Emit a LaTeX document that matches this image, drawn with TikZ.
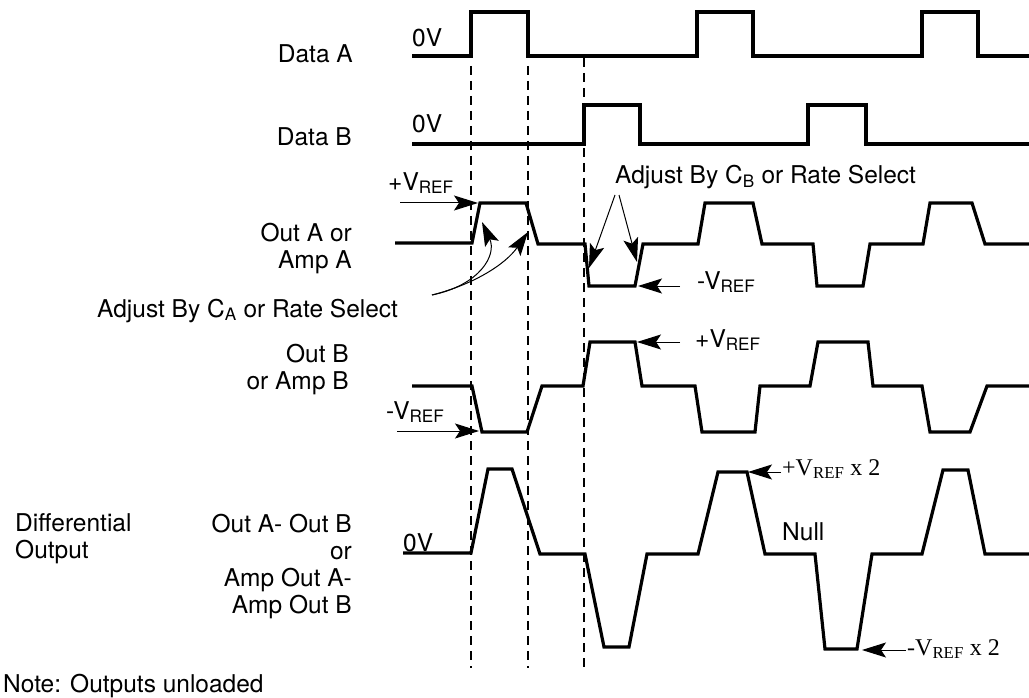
\documentclass[tikz,border=0pt]{standalone}
\usepackage{fontspec}
\setmainfont{TeX Gyre Heros}
\newfontfamily\timesfont{Liberation Serif}
\usetikzlibrary{arrows.meta}
\begin{document}
\begin{tikzpicture}[x=1pt,y=-1pt,
 wave/.style={line width=3.2pt,line join=miter},
 guide/.style={line width=1.1pt,dash pattern=on 9pt off 6pt},
 lab/.style={font=\fontsize{24.5}{27}\selectfont,inner sep=0pt},
 serif/.style={font=\timesfont\fontsize{24}{26}\selectfont,inner sep=0pt},
 ptr/.style={-{Stealth[length=24pt,width=15pt,inset=5pt]},line width=1pt}]
\useasboundingbox (0,0) rectangle (1029,698);
\node[lab,anchor=base east] (dataA) at (353,63) {Data A};
\node[lab,anchor=base west] (zeroA) at (412,47) {0V};
\node[lab,anchor=base east] (dataB) at (352,146) {Data B};
\node[lab,anchor=base west] (zeroB) at (412,133) {0V};
\node[lab,anchor=base west] (refA1) at (388,190) {+V\textsubscript{REF}};
\node[lab,align=right,anchor=base east] (outA) at (352,268) {Out A or\\Amp A};
\node[lab,anchor=base west] (adjA) at (97,317) {Adjust By C\textsubscript{A} or Rate Select};
\node[lab,anchor=base west] (adjB) at (615,184) {Adjust By C\textsubscript{B} or Rate Select};
\node[lab,anchor=base west] (refA2) at (697,289) {-V\textsubscript{REF}};
\node[lab,anchor=base west] (refB1) at (695,347) {+V\textsubscript{REF}};
\node[lab,align=right,anchor=base east] (outB) at (349,389) {Out B\\or Amp B};
\node[lab,anchor=base west] (refB2) at (386,419) {-V\textsubscript{REF}};
\node[lab,align=left,anchor=base west] (diff) at (15,558) {Differential\\Output};
\node[lab,align=right,anchor=base east] (diffAB) at (352,613) {Out A- Out B\\or\\Amp Out A-\\Amp Out B};
\node[lab,anchor=base west] (zeroD) at (403,551) {0V};
\node[serif,anchor=base west] (refD1) at (782,475) {+V\textsubscript{REF} x 2};
\node[lab,anchor=base west] (null) at (782,540) {Null};
\node[serif,anchor=base west] (refD2) at (907,655) {-V\textsubscript{REF} x 2};
\node[lab,anchor=base west] (note) at (3,692) {Note: Outputs unloaded};
\foreach \x/\t in {471/66,528/66,584/58}
  \draw[guide] (\x,\t) -- (\x,668);
\draw[wave] (412,56) -- (471,56) -- (471,12) -- (528,12) -- (528,56) -- (697,56) -- (697,12) -- (753,12)
  -- (753,56) -- (922,56) -- (922,12) -- (978,12) -- (978,56) -- (1029,56);
\draw[wave] (412,144) -- (584,144) -- (584,105) -- (640,105) -- (640,144) -- (808,144) -- (808,105)
  -- (866,105) -- (866,144) -- (1029,144);
\draw[wave] (395,243) -- (472,243) -- (480,203) -- (526,203) -- (538,244) -- (585,244) -- (589,286)
  -- (635,286) -- (643,244) -- (698,244) -- (705,203) -- (753,203) -- (762,244) -- (813,244) -- (817,286)
  -- (863,286) -- (870,244) -- (923,244) -- (930,203) -- (972,203) -- (985,244) -- (1029,244);
\draw[wave] (412,386) -- (472,386) -- (482,432) -- (527,432) -- (542,386) -- (583,386) -- (590,342)
  -- (635,342) -- (642,386) -- (695,386) -- (702,432) -- (755,432) -- (760,386) -- (810,386) -- (818,342)
  -- (868,342) -- (873,386) -- (922,386) -- (930,432) -- (970,432) -- (987,386) -- (1029,386);
\draw[wave] (403,553) -- (471,553) -- (488,469) -- (512,469) -- (540,554) -- (585,554) -- (604,647)
  -- (629,647) -- (647,554) -- (698,554) -- (718,472) -- (747,472) -- (765,554) -- (815,554) -- (825,649)
  -- (857,649) -- (872,554) -- (922,554) -- (943,470) -- (968,470) -- (985,554) -- (1029,554);
\coordinate (topA) at (478,203);
\coordinate (topAtail) at (400,203);
\coordinate (adjAfoot) at (432,295);
\coordinate (riseA) at (482,222);
\coordinate (fallA) at (528,232);
\coordinate (adjBfoot1) at (615,195);
\coordinate (adjBfoot2) at (619,195);
\coordinate (fallB) at (589,268);
\coordinate (riseB) at (637,262);
\coordinate (lowA) at (638,286);
\coordinate (lowAtail) at (680,286);
\coordinate (topB) at (637,342);
\coordinate (topBtail) at (680,342);
\coordinate (lowB) at (479,431);
\coordinate (lowBtail) at (397,431);
\coordinate (topD) at (748,472);
\coordinate (topDtail) at (781,472);
\coordinate (lowD) at (862,650);
\coordinate (lowDtail) at (906,650);
\draw[ptr] (topAtail) -- (topA);
\draw[ptr] (adjAfoot) .. controls (480,285) and (497,255) .. (riseA);
\draw[ptr] (adjAfoot) .. controls (472,285) and (505,265) .. (fallA);
\draw[ptr] (adjBfoot1) -- (fallB);
\draw[ptr] (adjBfoot2) -- (riseB);
\draw[ptr] (lowAtail) -- (lowA);
\draw[ptr] (topBtail) -- (topB);
\draw[ptr] (lowBtail) -- (lowB);
\draw[ptr] (topDtail) -- (topD);
\draw[ptr] (lowDtail) -- (lowD);
\end{tikzpicture}
\end{document}
